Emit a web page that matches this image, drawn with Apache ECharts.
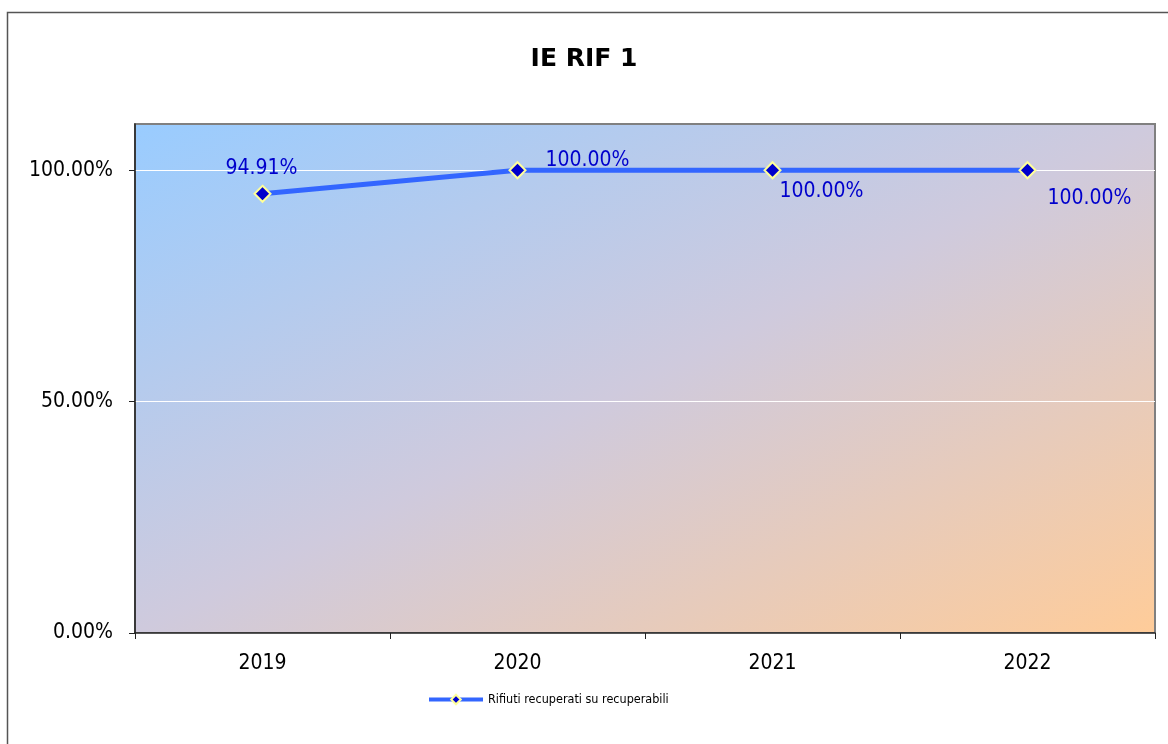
<!DOCTYPE html>
<html>
<head>
<meta charset="utf-8">
<script src="https://cdn.jsdelivr.net/npm/echarts@6/dist/echarts.min.js"></script>
<style>
  html, body { margin: 0; padding: 0; background: #fff; }
  #chart { width: 1168px; height: 744px; }
</style>
</head>
<body>
<div id="chart"></div>
<script>
// dati
const years = ['2019', '2020', '2021', '2022'];
const recuperati = [94.91, 100, 100, 100];
const yTicks = [0, 50, 100];
// posizione etichette (come in Excel, ogni punto ha la sua)
const labelPos = [[8, -16], [37, -1], [16, 30], [29, 37]];
const labelAlign = ['center', 'left', 'left', 'left'];

const chart = echarts.init(document.getElementById('chart'));

const fontFamily = '"DejaVu Sans Condensed", "Noto Sans", sans-serif';
const titleFont = '"DejaVu Sans", Verdana, sans-serif';

// gradiente diagonale come in Excel: linee di uguale colore lungo l'antidiagonale
const W = 1020, H = 509;
const gx = 2 * H * H / (H * H + W * W);
const gy = 2 * W * W / (H * H + W * W);

const option = {
  animation: false,
  backgroundColor: '#fff',
  title: {
    text: 'IE RIF 1',
    left: 'center',
    top: 42,
    textStyle: { fontFamily: titleFont, fontSize: 25, fontWeight: 'bold', color: '#000' }
  },
  graphic: [{
    type: 'rect',
    shape: { x: 7.5, y: 12.5, width: 1170, height: 740 },
    style: { fill: 'none', stroke: '#555', lineWidth: 1.5 },
    z: -10
  }],
  legend: {
    bottom: 33,
    left: 422,
    itemWidth: 54,
    itemHeight: 12,
    itemGap: 4,
    textStyle: { fontFamily: fontFamily, fontSize: 12.5, color: '#000' },
    lineStyle: { width: 4 },
    data: ['Rifiuti recuperati su recuperabili']
  },
  grid: {
    left: 135,
    right: 13,
    top: 124,
    bottom: 111,
    show: true,
    borderColor: '#808080',
    borderWidth: 2,
    backgroundColor: new echarts.graphic.LinearGradient(0, 0, gx, gy, [
      { offset: 0, color: '#99CCFF' },
      { offset: 0.5, color: '#CFCADD' },
      { offset: 1, color: '#FFCC99' }
    ])
  },
  xAxis: {
    type: 'category',
    data: years,
    boundaryGap: true,
    axisLine: { lineStyle: { color: '#222', width: 1.5 } },
    axisTick: { show: true, inside: false, length: 6, lineStyle: { color: '#222' } },
    axisLabel: { fontFamily: fontFamily, fontSize: 21, color: '#000', margin: 20 },
    splitLine: { show: false }
  },
  yAxis: {
    type: 'value',
    min: 0,
    max: 110,
    interval: 50,
    axisLine: { show: true, lineStyle: { color: '#222', width: 1.5 } },
    axisTick: { show: true, length: 6, lineStyle: { color: '#222' }, customValues: yTicks },
    axisLabel: {
      fontFamily: fontFamily, fontSize: 21, color: '#000', margin: 22,
      customValues: yTicks,
      formatter: v => v.toFixed(2) + '%'
    },
    splitLine: { show: true, lineStyle: { color: '#fff', width: 1 } }
  },
  series: [{
    name: 'Rifiuti recuperati su recuperabili',
    type: 'line',
    data: recuperati.map((v, i) => ({
      value: v,
      label: { position: labelPos[i], align: labelAlign[i], verticalAlign: 'middle' }
    })),
    lineStyle: { color: '#3366FF', width: 5 },
    itemStyle: { color: '#0000CC', borderColor: '#FFFF99', borderWidth: 2 },
    symbol: 'diamond',
    symbolSize: 16,
    label: {
      show: true,
      fontFamily: fontFamily,
      fontSize: 21,
      color: '#0000CC',
      formatter: p => p.value.toFixed(2) + '%'
    },
    z: 5
  }]
};

chart.setOption(option);
</script>
</body>
</html>
